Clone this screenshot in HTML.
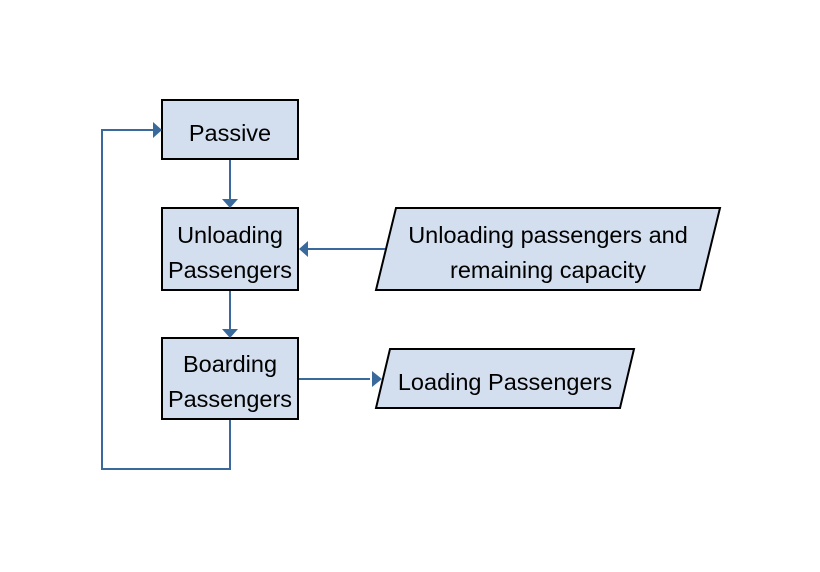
<!DOCTYPE html>
<html><head><meta charset="utf-8"><style>
html,body{margin:0;padding:0;background:#fff;}
svg{display:block;}
text{font-family:"Liberation Sans",Arial,sans-serif;font-size:23.5px;fill:#000;}
</style></head><body>
<svg width="820" height="572" viewBox="0 0 820 572" xmlns="http://www.w3.org/2000/svg">
<g fill="#d3dfef" stroke="#000" stroke-width="2">
<rect x="162" y="100" width="136" height="59"/>
<rect x="162" y="208" width="136" height="82"/>
<rect x="162" y="338" width="136" height="81"/>
<polygon points="396,208 720,208 700,290 376,290"/>
<polygon points="390,349 634,349 620,408 376,408"/>
</g>
<g stroke="#3a6a9c" stroke-width="2" fill="none">
<line x1="230" y1="160" x2="230" y2="200"/>
<line x1="230" y1="291" x2="230" y2="330"/>
<line x1="385" y1="249" x2="306" y2="249"/>
<line x1="299" y1="379" x2="370" y2="379"/>
<polyline points="230,420 230,469 102,469 102,130 154,130"/>
</g>
<g fill="#3a6a9c">
<polygon points="222,199 238,199 230,208"/>
<polygon points="222,329 238,329 230,338"/>
<polygon points="308,241 308,257 299,249"/>
<polygon points="372,371 372,387 382,379"/>
<polygon points="153,122 153,138 162,130"/>
</g>
<text x="230" y="141" text-anchor="middle">Passive</text>
<text x="230" y="243" text-anchor="middle">Unloading</text>
<text x="230" y="278" text-anchor="middle">Passengers</text>
<text x="230" y="372" text-anchor="middle">Boarding</text>
<text x="230" y="407" text-anchor="middle">Passengers</text>
<text x="548" y="243" text-anchor="middle">Unloading passengers and</text>
<text x="548" y="278" text-anchor="middle">remaining capacity</text>
<text x="505" y="390" text-anchor="middle">Loading Passengers</text>
</svg>
</body></html>
